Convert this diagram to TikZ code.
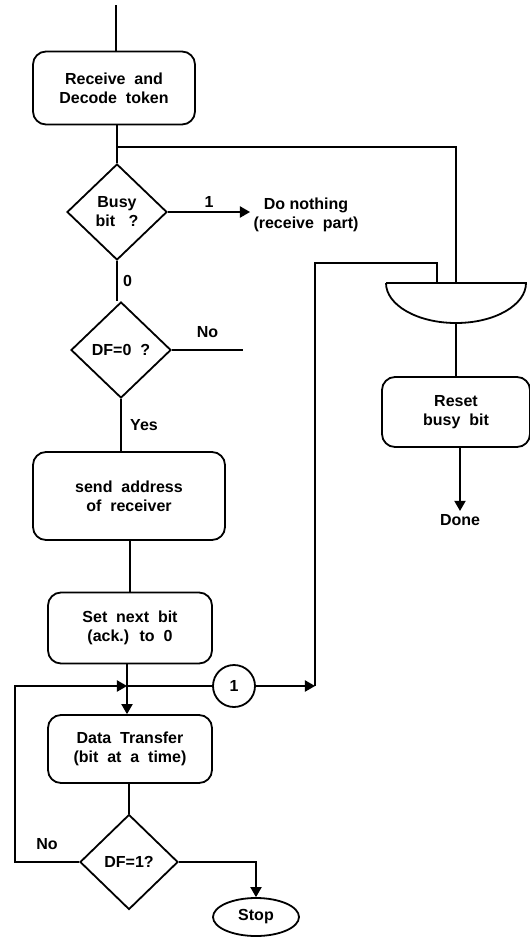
\documentclass[tikz,border=0pt]{standalone}
\usepackage{fontspec}
\setmainfont{Liberation Sans}
\usetikzlibrary{arrows,shapes,positioning}
\tikzstyle{txt} = [font=\fontsize{16}{19}\selectfont\bfseries, align=center]
\tikzstyle{box} = [txt, draw, line width=1.8pt, rounded corners=13pt]
\tikzstyle{decision} = [txt, draw, diamond, line width=1.8pt, inner sep=0pt, minimum width=100pt, minimum height=96pt]
\tikzstyle{line} = [line width=1.8pt]
\tikzstyle{arrow} = [line width=1.8pt,->,>=triangle 60]

\begin{document}
\begin{tikzpicture}[x=1pt, y=-1pt]
\useasboundingbox (0,0) rectangle (530,943);

% Main column
\coordinate (entry) at (116,5);
\node[box, minimum width=162pt, minimum height=73pt] (recv) at (114,88) {Receive \ and\\Decode \ token};
\node[decision] (busy) at (117,212) {Busy\\bit \ \ ?};
\node[decision] (dfzero) at (121,350) {DF=0 \ ?};
\node[box, minimum width=192pt, minimum height=88pt] (send) at (129,496) {send \ address\\of \ receiver};
\node[box, minimum width=164pt, minimum height=71pt] (setbit) at (130,628) {Set \ next \ bit\\(ack.) \ to \ 0};
\node[box, minimum width=164pt, minimum height=68pt, inner sep=1pt] (data) at (130,749) {Data \ Transfer\\(bit \ at \ a \ time)};
\node[decision, minimum width=98pt, minimum height=95pt] (dfone) at (129,862) {DF=1?};
\node[txt, draw, ellipse, line width=1.8pt, minimum width=86pt, minimum height=38pt, inner sep=1pt] (stop) at (256,917) {Stop};
\node[txt, draw, circle, line width=1.8pt, minimum size=42pt, inner sep=0pt] (conn) at (234,686) {1};

% Right column
\coordinate (mergein) at (437,283);
\coordinate (mergetop) at (456,283);
\coordinate (mergebot) at (456,323);
\draw[line] (386,283) -- (526,283) arc (0:180:70 and 40);
\node[box, minimum width=148pt, minimum height=70pt] (reset) at (456,412) {Reset\\busy \ bit};
\node[txt] (done) at (460,520) {Done};
\node[txt, anchor=west] (nothing) at (250,215) {Do nothing\\(receive \ part)};

% Junctions
\coordinate (split) at (117,147);
\coordinate (noend) at (243,350);
\coordinate (join) at (127,686);
\coordinate (loop) at (15,862);
\coordinate (retn) at (315,686);
\coordinate (rethigh) at (437,263);

% Connectors
\draw[line] (entry) -- (entry |- recv.north);
\draw[line] (recv.south -| split) -- (busy.north);
\draw[line] (split) -| (mergetop);
\draw[arrow] (busy.east) -- (busy.east -| nothing.west) node[txt, midway, above] {1};
\draw[line] (busy.south) -- (busy.south |- dfzero.north) node[txt, midway, right=2pt] {0};
\draw[line] (dfzero.east) -- (noend) node[txt, midway, above=8pt] {No};
\draw[line] (dfzero.south) -- (dfzero.south |- send.north) node[txt, midway, right=5pt] {Yes};
\draw[line] (send.south -| setbit) -- (setbit.north);
\draw[line] (setbit.south -| join) -- (join);
\draw[line] (join) -- (conn.west);
\draw[arrow] (join) -- (join |- data.north);
\draw[arrow] (dfone.west) -- (loop) node[txt, midway, above=8pt] {No} |- (join);
\draw[line] (data.south -| dfone) -- (dfone.north);
\draw[arrow] (dfone.east) -| (stop.north);
\draw[arrow] (conn.east) -- (retn);
\draw[line] (retn) |- (rethigh) -- (mergein);
\draw[line] (mergebot) -- (reset.north);
\draw[arrow] (reset.south -| done) -- (done.north);
\end{tikzpicture}
\end{document}
